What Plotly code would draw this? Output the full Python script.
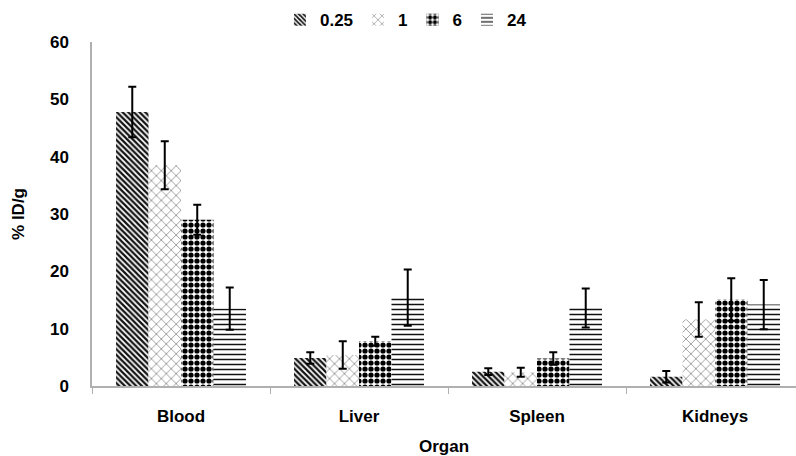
import plotly.graph_objects as go

organs = ["Blood", "Liver", "Spleen", "Kidneys"]
time_points = ["0.25", "1", "6", "24"]

# mean %ID/g per organ, one list per time point (h)
vals_025 = [47.8, 4.9, 2.5, 1.6]
vals_1 = [38.5, 5.4, 2.4, 11.6]
vals_6 = [29.0, 7.8, 4.8, 15.1]
vals_24 = [13.5, 15.4, 13.6, 14.2]

# standard deviations
err_025 = [4.4, 1.0, 0.6, 1.0]
err_1 = [4.2, 2.4, 0.8, 3.0]
err_6 = [2.6, 0.8, 1.1, 3.7]
err_24 = [3.7, 4.9, 3.4, 4.3]

series = [
    (time_points[0], vals_025, err_025, dict(shape="\\", size=4, solidity=0.55, fgcolor="#111111")),
    (time_points[1], vals_1, err_1, dict(shape="x", size=7, solidity=0.14, fgcolor="#444444")),
    (time_points[2], vals_6, err_6, dict(shape=".", size=6, solidity=0.6, fgcolor="#000000")),
    (time_points[3], vals_24, err_24, dict(shape="-", size=5, solidity=0.3, fgcolor="#111111")),
]

font = "Liberation Sans, Arial, sans-serif"

fig = go.Figure()
for name, v, e, pat in series:
    fig.add_trace(go.Bar(
        name=name,
        x=organs,
        y=v,
        error_y=dict(type="data", array=e, color="black", thickness=2, width=4),
        marker=dict(color="white", line=dict(width=0), pattern=dict(fillmode="replace", bgcolor="white", **pat)),
    ))

fig.update_layout(
    width=796,
    height=456,
    barmode="group",
    bargap=0.27,
    bargroupgap=0,
    plot_bgcolor="white",
    paper_bgcolor="white",
    margin=dict(l=92, r=0, t=42, b=70, autoexpand=False),
    font=dict(family=font, size=17, color="black", weight="bold"),
    legend=dict(
        orientation="h",
        xref="container",
        x=0.51,
        xanchor="center",
        yref="container",
        y=0.995,
        yanchor="top",
        font=dict(family=font, size=17, weight="bold"),
        itemwidth=30,
        tracegroupgap=0,
    ),
    xaxis=dict(
        range=[-0.5, 3.455],
        automargin=False,
        showline=True,
        linecolor="#b0b0b0",
        linewidth=1.5,
        ticks="outside",
        tickson="boundaries",
        ticklen=6,
        tickcolor="#b0b0b0",
        ticklabelstandoff=14,
        title=dict(text="Organ", standoff=27, font=dict(family=font, size=17, weight="bold")),
    ),
    yaxis=dict(
        range=[0, 60],
        dtick=10,
        automargin=False,
        showline=True,
        linecolor="#b0b0b0",
        linewidth=1.5,
        showgrid=False,
        zeroline=False,
        ticks="",
        ticklabelstandoff=18,
        title=dict(text="% ID/g", standoff=21, font=dict(family=font, size=17, weight="bold")),
    ),
)

fig.write_html("out.html")
